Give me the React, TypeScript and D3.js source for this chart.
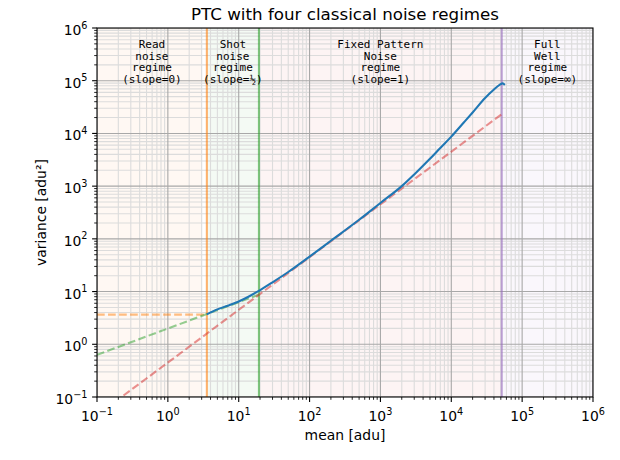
import React from 'react';
import * as d3 from 'd3';

const W = 620;
const H = 460;
const M = { left: 97, top: 28, right: 593, bottom: 397 };

const meanData = [3.55, 5, 7, 10, 13.5, 19.2, 30, 50, 100, 200, 500, 1000, 2000, 3000, 5000, 7000, 10000, 15000, 20000, 30000, 40000, 48000, 53000, 57000];
const varData = [3.7, 4.6, 5.4, 6.5, 7.9, 10.3, 15.0, 23.5, 46, 92, 230, 480, 1000, 1670, 3300, 5300, 8700, 16100, 25000, 47000, 68000, 83000, 89000, 83000];

// asymptote lines (endpoints)
const readX = [0.1, 3.55];
const readY = [3.65, 3.65];
const shotX = [0.1, 19.3];
const shotY = [0.63, 8.75];
const fpnX = [0.1, 51500];
const fpnY = [0.045, 23200];

// regime boundaries
const boundaries = [3.55, 19.3, 51500];
const boundaryColors = ['#ff7f0e', '#2ca02c', '#9467bd'];
const spanStart = [0.1, 3.55, 19.3, 51500];
const spanEnd = [3.0, 19.3, 51500, 1e6];
const spanColors = ['#ff7f0e', '#2ca02c', '#d62728', '#9467bd'];
const labelCenters = [0.596, 8.28, 997, 227000];
const regimeLabels = [
  ['Read', 'noise', 'regime', '(slope=0)'],
  ['Shot', 'noise', 'regime', '(slope=½)'],
  ['Fixed Pattern', 'Noise', 'regime', '(slope=1)'],
  ['Full', 'Well', 'regime', '(slope=∞)'],
];

const xDomain = [0.1, 1e6];
const yDomain = [0.1, 1e6];
const decadeExps = [-1, 0, 1, 2, 3, 4, 5, 6];

const FONT = '"DejaVu Sans", sans-serif';
const MONO = '"DejaVu Sans Mono", monospace';

function supLabel(e: number) {
  return e < 0 ? '\u2212' + Math.abs(e) : String(e);
}

export default function App() {
  const x = d3.scaleLog().domain(xDomain).range([M.left, M.right]);
  const y = d3.scaleLog().domain(yDomain).range([M.bottom, M.top]);

  const majors = decadeExps.map((e) => Math.pow(10, e));
  const minors: number[] = [];
  for (let e = -1; e < 6; e++) for (let k = 2; k <= 9; k++) minors.push(k * Math.pow(10, e));

  const line = d3.line<[number, number]>().x((d) => x(d[0])).y((d) => y(d[1]));
  const curve = d3
    .line<[number, number]>()
    .x((d) => x(d[0]))
    .y((d) => y(d[1]))
    .curve(d3.curveMonotoneX);

  const pairs = (xs: number[], ys: number[]) => xs.map((v, i) => [v, ys[i]] as [number, number]);

  const lw = 2.08;
  const dash = `${3.7 * lw} ${1.6 * lw}`;

  return (
    <svg width={W} height={H} style={{ position: 'absolute', left: 0, top: 0, background: '#fff' }}>
      <defs>
        <clipPath id="plot">
          <rect x={M.left} y={M.top} width={M.right - M.left} height={M.bottom - M.top} />
        </clipPath>
      </defs>
      <rect x={0} y={0} width={W} height={H} fill="#fff" />
      <g clipPath="url(#plot)">
        {spanStart.map((s, i) => (
          <rect
            key={'span' + i}
            x={x(s)}
            y={M.top}
            width={x(spanEnd[i]) - x(s)}
            height={M.bottom - M.top}
            fill={spanColors[i]}
            opacity={0.05}
          />
        ))}
        {minors.map((v, i) => (
          <line key={'mgx' + i} x1={x(v)} x2={x(v)} y1={M.top} y2={M.bottom} stroke="#dcdcdc" strokeWidth={1.1} />
        ))}
        {minors.map((v, i) => (
          <line key={'mgy' + i} y1={y(v)} y2={y(v)} x1={M.left} x2={M.right} stroke="#dcdcdc" strokeWidth={1.1} />
        ))}
        {majors.map((v, i) => (
          <line key={'gx' + i} x1={x(v)} x2={x(v)} y1={M.top} y2={M.bottom} stroke="#a8a8a8" strokeWidth={1.1} />
        ))}
        {majors.map((v, i) => (
          <line key={'gy' + i} y1={y(v)} y2={y(v)} x1={M.left} x2={M.right} stroke="#a8a8a8" strokeWidth={1.1} />
        ))}
        {boundaries.map((b, i) => (
          <line
            key={'b' + i}
            x1={x(b)}
            x2={x(b)}
            y1={M.top}
            y2={M.bottom}
            stroke={boundaryColors[i]}
            strokeOpacity={0.6}
            strokeWidth={lw}
          />
        ))}
        <path d={line(pairs(readX, readY)) || ''} fill="none" stroke="#ff7f0e" strokeOpacity={0.5} strokeWidth={lw} strokeDasharray={dash} />
        <path d={line(pairs(shotX, shotY)) || ''} fill="none" stroke="#2ca02c" strokeOpacity={0.5} strokeWidth={lw} strokeDasharray={dash} />
        <path d={line(pairs(fpnX, fpnY)) || ''} fill="none" stroke="#d62728" strokeOpacity={0.5} strokeWidth={lw} strokeDasharray={dash} />
        <path d={curve(pairs(meanData, varData)) || ''} fill="none" stroke="#1f77b4" strokeWidth={lw} strokeLinejoin="round" strokeLinecap="butt" />
      </g>

      {regimeLabels.map((lines, i) => (
        <text key={'rl' + i} x={x(labelCenters[i])} textAnchor="middle" fontFamily={MONO} fontSize={11} fill="#000">
          {lines.map((t, j) => (
            <tspan key={j} x={x(labelCenters[i])} y={48 + j * 11.6}>
              {t}
            </tspan>
          ))}
        </text>
      ))}

      {/* spines */}
      <rect x={M.left} y={M.top} width={M.right - M.left} height={M.bottom - M.top} fill="none" stroke="#000" strokeWidth={1.1} />

      {/* ticks */}
      {majors.map((v, i) => (
        <line key={'tx' + i} x1={x(v)} x2={x(v)} y1={M.bottom} y2={M.bottom + 4.9} stroke="#000" strokeWidth={1.1} />
      ))}
      {minors.map((v, i) => (
        <line key={'mtx' + i} x1={x(v)} x2={x(v)} y1={M.bottom} y2={M.bottom + 2.8} stroke="#000" strokeWidth={0.85} />
      ))}
      {majors.map((v, i) => (
        <line key={'ty' + i} y1={y(v)} y2={y(v)} x1={M.left - 4.9} x2={M.left} stroke="#000" strokeWidth={1.1} />
      ))}
      {minors.map((v, i) => (
        <line key={'mty' + i} y1={y(v)} y2={y(v)} x1={M.left - 2.8} x2={M.left} stroke="#000" strokeWidth={0.85} />
      ))}

      {/* tick labels */}
      {decadeExps.map((e, i) => (
        <text key={'xl' + i} x={x(Math.pow(10, e))} y={421} textAnchor="middle" fontFamily={FONT} fontSize={13.9} fill="#000">
          10
          <tspan dy={-6.5} fontSize={9.7}>
            {supLabel(e)}
          </tspan>
        </text>
      ))}
      {decadeExps.map((e, i) => (
        <text key={'yl' + i} x={87.5} y={y(Math.pow(10, e)) + 7} textAnchor="end" fontFamily={FONT} fontSize={13.9} fill="#000">
          10
          <tspan dy={-6.5} fontSize={9.7}>
            {supLabel(e)}
          </tspan>
        </text>
      ))}

      {/* axis labels & title */}
      <text x={(M.left + M.right) / 2} y={440} textAnchor="middle" fontFamily={FONT} fontSize={13.9} fill="#000">
        mean [adu]
      </text>
      <text
        transform={`translate(46,${(M.top + M.bottom) / 2}) rotate(-90)`}
        textAnchor="middle"
        fontFamily={FONT}
        fontSize={13.9}
        fill="#000"
      >
        variance [adu²]
      </text>
      <text x={(M.left + M.right) / 2} y={19.5} textAnchor="middle" fontFamily={FONT} fontSize={16.7} fill="#000">
        PTC with four classical noise regimes
      </text>
    </svg>
  );
}
